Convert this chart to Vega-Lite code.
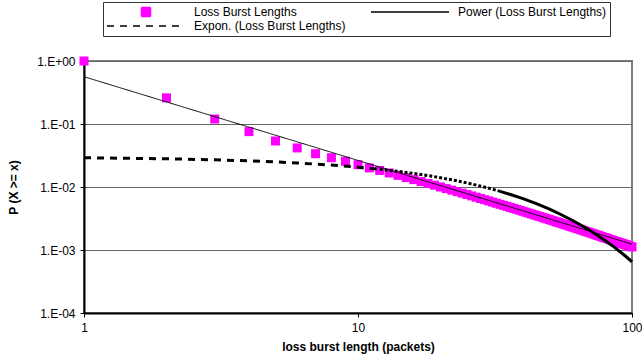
{
  "$schema": "https://vega.github.io/schema/vega-lite/v6.json",
  "width": 548,
  "height": 252,
  "autosize": "none",
  "padding": {"left": 84, "top": 61, "right": 10, "bottom": 49},
  "background": "white",
  "config": {
    "font": "Liberation Sans",
    "view": {"stroke": "#808080", "strokeWidth": 2}
  },
  "datasets": {
    "pts": [
      {"x": 1, "y": 1.0}, {"x": 2, "y": 0.26}, {"x": 3, "y": 0.12}, {"x": 4, "y": 0.0757}, {"x": 5, "y": 0.0537},
      {"x": 6, "y": 0.0417}, {"x": 7, "y": 0.0338}, {"x": 8, "y": 0.0292}, {"x": 9, "y": 0.0256}, {"x": 10, "y": 0.0226},
      {"x": 11, "y": 0.0201}, {"x": 12, "y": 0.0183}, {"x": 13, "y": 0.0167}, {"x": 14, "y": 0.0153}, {"x": 15, "y": 0.0141},
      {"x": 16, "y": 0.0131}, {"x": 17, "y": 0.0122}, {"x": 18, "y": 0.0114}, {"x": 19, "y": 0.0107}, {"x": 20, "y": 0.0100},
      {"x": 21, "y": 0.00943}, {"x": 22, "y": 0.00891}, {"x": 23, "y": 0.00843}, {"x": 24, "y": 0.00799}, {"x": 25, "y": 0.00759},
      {"x": 26, "y": 0.00722}, {"x": 27, "y": 0.00689}, {"x": 28, "y": 0.00657}, {"x": 29, "y": 0.00628}, {"x": 30, "y": 0.00601},
      {"x": 31, "y": 0.00576}, {"x": 32, "y": 0.00553}, {"x": 33, "y": 0.00531}, {"x": 34, "y": 0.00511}, {"x": 35, "y": 0.00492},
      {"x": 36, "y": 0.00474}, {"x": 37, "y": 0.00457}, {"x": 38, "y": 0.00441}, {"x": 39, "y": 0.00426}, {"x": 40, "y": 0.00412},
      {"x": 41, "y": 0.00398}, {"x": 42, "y": 0.00385}, {"x": 43, "y": 0.00373}, {"x": 44, "y": 0.00362}, {"x": 45, "y": 0.00351},
      {"x": 46, "y": 0.0034}, {"x": 47, "y": 0.00331}, {"x": 48, "y": 0.00321}, {"x": 49, "y": 0.00312}, {"x": 50, "y": 0.00304},
      {"x": 51, "y": 0.00295}, {"x": 52, "y": 0.00288}, {"x": 53, "y": 0.0028}, {"x": 54, "y": 0.00273}, {"x": 55, "y": 0.00266},
      {"x": 56, "y": 0.00259}, {"x": 57, "y": 0.00253}, {"x": 58, "y": 0.00247}, {"x": 59, "y": 0.00241}, {"x": 60, "y": 0.00235},
      {"x": 61, "y": 0.0023}, {"x": 62, "y": 0.00225}, {"x": 63, "y": 0.0022}, {"x": 64, "y": 0.00215}, {"x": 65, "y": 0.0021},
      {"x": 66, "y": 0.00206}, {"x": 67, "y": 0.00201}, {"x": 68, "y": 0.00197}, {"x": 69, "y": 0.00193}, {"x": 70, "y": 0.00189},
      {"x": 71, "y": 0.00185}, {"x": 72, "y": 0.00181}, {"x": 73, "y": 0.00178}, {"x": 74, "y": 0.00174}, {"x": 75, "y": 0.00171},
      {"x": 76, "y": 0.00168}, {"x": 77, "y": 0.00164}, {"x": 78, "y": 0.00161}, {"x": 79, "y": 0.00158}, {"x": 80, "y": 0.00156},
      {"x": 81, "y": 0.00153}, {"x": 82, "y": 0.0015}, {"x": 83, "y": 0.00147}, {"x": 84, "y": 0.00145}, {"x": 85, "y": 0.00142},
      {"x": 86, "y": 0.0014}, {"x": 87, "y": 0.00137}, {"x": 88, "y": 0.00135}, {"x": 89, "y": 0.00133}, {"x": 90, "y": 0.00131},
      {"x": 91, "y": 0.00129}, {"x": 92, "y": 0.00127}, {"x": 93, "y": 0.00125}, {"x": 94, "y": 0.00123}, {"x": 95, "y": 0.00121},
      {"x": 96, "y": 0.00119}, {"x": 97, "y": 0.00117}, {"x": 98, "y": 0.00115}, {"x": 99, "y": 0.00113}, {"x": 100, "y": 0.00112}
    ],
    "power": [
      {"x": 1, "y": 0.563}, {"x": 100, "y": 0.00124}
    ],
    "expon": [
      {"x": 1, "y": 0.02916}, {"x": 2, "y": 0.02806}, {"x": 3, "y": 0.027}, {"x": 4, "y": 0.02598}, {"x": 5, "y": 0.02501},
      {"x": 6, "y": 0.02406}, {"x": 8, "y": 0.02229}, {"x": 10, "y": 0.02064}, {"x": 12, "y": 0.01912}, {"x": 14, "y": 0.0177},
      {"x": 16, "y": 0.01639}, {"x": 18, "y": 0.01518}, {"x": 20, "y": 0.01406}, {"x": 23, "y": 0.01253}, {"x": 26, "y": 0.01116},
      {"x": 30, "y": 0.00958}, {"x": 33, "y": 0.00853}, {"x": 36, "y": 0.00761}, {"x": 40, "y": 0.00652}, {"x": 45, "y": 0.00538},
      {"x": 50, "y": 0.00444}, {"x": 55, "y": 0.00366}, {"x": 60, "y": 0.00302}, {"x": 65, "y": 0.0025}, {"x": 70, "y": 0.00206},
      {"x": 75, "y": 0.0017}, {"x": 80, "y": 0.0014}, {"x": 85, "y": 0.00116}, {"x": 90, "y": 0.000955}, {"x": 95, "y": 0.000788},
      {"x": 100, "y": 0.000651}
    ]
  },
  "encoding": {
    "x": {
      "field": "x", "type": "quantitative",
      "scale": {"type": "log", "domain": [1, 100], "nice": false},
      "axis": {
        "values": [1, 10, 100], "format": "d", "grid": false,
        "domainColor": "#000000", "domainWidth": 2, "tickColor": "#000000", "tickSize": 4, "tickWidth": 1,
        "labelFontSize": 12, "labelColor": "#000000", "labelPadding": 5, "labelFlush": false,
        "title": "loss burst length (packets)", "titleFontSize": 12, "titleFontWeight": "bold", "titleColor": "#000000", "titlePadding": 8
      }
    },
    "y": {
      "field": "y", "type": "quantitative",
      "scale": {"type": "log", "domain": [0.0001, 1], "nice": false},
      "axis": {
        "values": [0.0001, 0.001, 0.01, 0.1, 1],
        "labelExpr": "datum.value >= 0.99 ? '1.E+00' : '1.E-0' + format(-log(datum.value) / LN10, '.0f')",
        "grid": true, "gridColor": "#666666", "gridWidth": 1,
        "domainColor": "#000000", "domainWidth": 2, "tickColor": "#000000", "tickSize": 4, "tickWidth": 1,
        "labelFontSize": 12, "labelColor": "#000000", "labelPadding": 5, "labelFlush": false,
        "title": "P (X >= x)", "titleFontSize": 12, "titleFontWeight": "bold", "titleColor": "#000000", "titlePadding": 16
      }
    }
  },
  "layer": [
    {
      "data": {"name": "pts"},
      "mark": {"type": "point", "filled": true, "opacity": 1},
      "encoding": {
        "color": {
          "datum": "Loss Burst Lengths", "type": "nominal",
          "scale": {
            "domain": ["Loss Burst Lengths", "Power (Loss Burst Lengths)", "Expon. (Loss Burst Lengths)"],
            "range": ["#FF00FF", "#000000", "#000000"]
          },
          "legend": {
            "title": null, "orient": "none", "legendX": 19, "legendY": -59,
            "direction": "horizontal", "columns": 2, "columnPadding": 24, "rowPadding": 0,
            "padding": 3, "clipHeight": 14, "symbolOffset": 0, "labelOffset": 8, "symbolStrokeWidth": 1.5,
            "labelFontSize": 12, "labelColor": "#000000", "labelLimit": 300,
            "strokeColor": "#333333", "fillColor": "#ffffff", "symbolOpacity": 1
          }
        },
        "shape": {
          "datum": "Loss Burst Lengths", "type": "nominal",
          "scale": {
            "domain": ["Loss Burst Lengths", "Power (Loss Burst Lengths)", "Expon. (Loss Burst Lengths)"],
            "range": ["square", "stroke", "stroke"]
          }
        },
        "size": {
          "datum": "Loss Burst Lengths", "type": "nominal",
          "scale": {
            "type": "ordinal",
            "domain": ["Loss Burst Lengths", "Power (Loss Burst Lengths)", "Expon. (Loss Burst Lengths)"],
            "range": [81, 6084, 6084]
          }
        }
      }
    },
    {
      "data": {"name": "power"},
      "mark": {"type": "line", "strokeWidth": 1},
      "encoding": {
        "color": {"datum": "Power (Loss Burst Lengths)", "type": "nominal"},
        "strokeDash": {
          "datum": "Power (Loss Burst Lengths)", "type": "nominal",
          "scale": {
            "domain": ["Loss Burst Lengths", "Power (Loss Burst Lengths)", "Expon. (Loss Burst Lengths)"],
            "range": [[1, 0], [1, 0], [7, 6]]
          }
        }
      }
    },
    {
      "data": {"name": "expon"},
      "transform": [{"filter": "datum.x <= 12"}],
      "mark": {"type": "line", "strokeWidth": 3, "strokeCap": "butt"},
      "encoding": {
        "color": {"datum": "Expon. (Loss Burst Lengths)", "type": "nominal"},
        "strokeDash": {"datum": "Expon. (Loss Burst Lengths)", "type": "nominal"}
      }
    },
    {
      "data": {"name": "expon"},
      "transform": [{"filter": "datum.x >= 12 && datum.x <= 33"}],
      "mark": {"type": "line", "strokeWidth": 3, "strokeDash": [3, 2], "strokeCap": "butt"},
      "encoding": {
        "color": {"datum": "Expon. (Loss Burst Lengths)", "type": "nominal"}
      }
    },
    {
      "data": {"name": "expon"},
      "transform": [{"filter": "datum.x >= 33"}],
      "mark": {"type": "line", "strokeWidth": 3},
      "encoding": {
        "color": {"datum": "Expon. (Loss Burst Lengths)", "type": "nominal"}
      }
    }
  ]
}
